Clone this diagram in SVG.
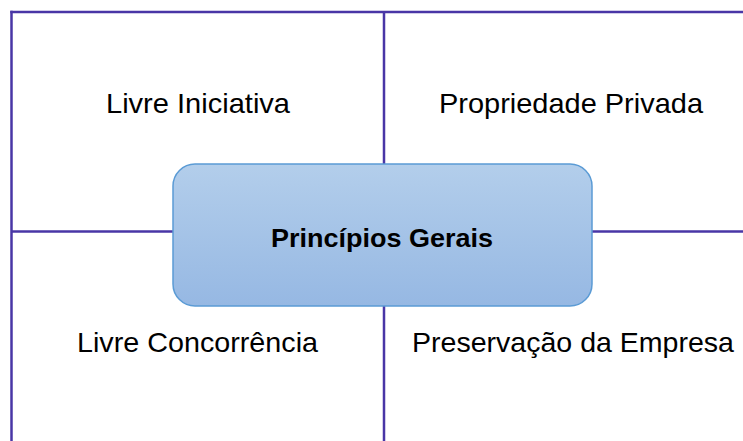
<svg xmlns="http://www.w3.org/2000/svg" width="743" height="441" viewBox="0 0 743 441">
<style>
.ln{stroke:#4936A6;stroke-width:2.5;fill:none}
.lbl{font-family:"Liberation Sans",Arial,sans-serif;font-size:28px;fill:#000;text-anchor:middle}
.ttl{font-family:"Liberation Sans",Arial,sans-serif;font-size:26px;font-weight:bold;fill:#000;text-anchor:middle}
</style>
<defs>
<linearGradient id="g" x1="0" y1="0" x2="0" y2="1">
<stop offset="0" stop-color="#B3CEEB"/>
<stop offset="1" stop-color="#96B8E3"/>
</linearGradient>
</defs>
<rect width="743" height="441" fill="#fff"/>
<g id="connectors">
<line class="ln" x1="11.5" y1="10.8" x2="11.5" y2="441"/>
<line class="ln" x1="10.3" y1="12" x2="743" y2="12"/>
<line class="ln" x1="384" y1="12" x2="384" y2="441"/>
<line class="ln" x1="11.5" y1="231.5" x2="743" y2="231.5"/>
</g>
<g id="n-livre-iniciativa"><text class="lbl" x="198" y="113" textLength="184" lengthAdjust="spacingAndGlyphs">Livre Iniciativa</text></g>
<g id="n-propriedade-privada"><text class="lbl" x="571" y="113" textLength="264" lengthAdjust="spacingAndGlyphs">Propriedade Privada</text></g>
<g id="n-livre-concorrencia"><text class="lbl" x="197.5" y="352" textLength="241" lengthAdjust="spacingAndGlyphs">Livre Concorrência</text></g>
<g id="n-preservacao"><text class="lbl" x="573" y="352" textLength="322" lengthAdjust="spacingAndGlyphs">Preservação da Empresa</text></g>
<g id="n-principios">
<rect x="173" y="164" width="419" height="142" rx="22" ry="22" fill="url(#g)" stroke="#5B9BD5" stroke-width="1.5"/>
<text class="ttl" x="382" y="247" textLength="222" lengthAdjust="spacingAndGlyphs">Princípios Gerais</text>
</g>
</svg>
